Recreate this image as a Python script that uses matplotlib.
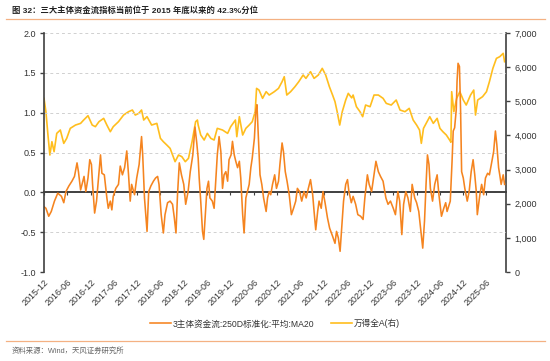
import numpy as np
import pandas as pd
import matplotlib
matplotlib.use("Agg")
import matplotlib.pyplot as plt
import matplotlib.dates as mdates

plt.rcParams['font.family'] = ['Liberation Sans', 'Noto Sans CJK SC', 'DejaVu Sans']

# 万得全A (right axis)
wind_dates = [
    "2015-12-01", "2015-12-16", "2016-01-01", "2016-01-16", "2016-02-01", "2016-02-18",
    "2016-03-10", "2016-04-07", "2016-05-04", "2016-05-27", "2016-06-24", "2016-08-04",
    "2016-09-13", "2016-10-07", "2016-11-10", "2016-12-13", "2017-01-07", "2017-02-04",
    "2017-03-13", "2017-04-07", "2017-05-04", "2017-05-27", "2017-07-07", "2017-08-16",
    "2017-09-24", "2017-10-24", "2017-11-16", "2017-12-13", "2018-01-04", "2018-01-21",
    "2018-02-16", "2018-03-24", "2018-05-04", "2018-06-01", "2018-06-24", "2018-07-21",
    "2018-08-16", "2018-09-24", "2018-10-21", "2018-11-16", "2018-12-13", "2019-01-07",
    "2019-02-04", "2019-03-04", "2019-03-18", "2019-03-24", "2019-04-13", "2019-05-10",
    "2019-06-04", "2019-07-01", "2019-07-27", "2019-08-21", "2019-10-01", "2019-11-10",
    "2019-12-04", "2020-01-10", "2020-01-21", "2020-02-10", "2020-03-07", "2020-04-01",
    "2020-04-27", "2020-05-21", "2020-06-13", "2020-06-24", "2020-07-13", "2020-08-10",
    "2020-09-07", "2020-10-01", "2020-11-10", "2020-12-13", "2021-01-10", "2021-01-27",
    "2021-02-16", "2021-03-18", "2021-04-21", "2021-05-21", "2021-06-24", "2021-07-16",
    "2021-08-21", "2021-09-18", "2021-10-21", "2021-11-21", "2021-12-18", "2022-01-16",
    "2022-02-10", "2022-03-01", "2022-03-18", "2022-04-07", "2022-04-27", "2022-05-24",
    "2022-06-13", "2022-07-10", "2022-07-21", "2022-08-16", "2022-09-13", "2022-10-04",
    "2022-10-27", "2022-12-01", "2023-01-01", "2023-02-04", "2023-03-13", "2023-04-07",
    "2023-05-16", "2023-06-24", "2023-07-24", "2023-09-01", "2023-10-04", "2023-11-04",
    "2023-12-01", "2023-12-24", "2024-01-07", "2024-01-24", "2024-02-21", "2024-03-13",
    "2024-04-10", "2024-05-10", "2024-06-01", "2024-06-24", "2024-07-21", "2024-08-16",
    "2024-08-26", "2024-09-01", "2024-09-18", "2024-10-10", "2024-11-04", "2024-12-01",
    "2024-12-24", "2025-01-27", "2025-02-21", "2025-03-07", "2025-03-24", "2025-05-01",
    "2025-06-01", "2025-06-24", "2025-07-21", "2025-08-18", "2025-09-13", "2025-10-10",
    "2025-10-21",
]
wind_vals = [
    5087, 4696, 4013, 3427, 3817, 3524,
    4061, 4159, 3768, 3915, 4208, 4305,
    4354, 4452, 4579, 4305, 4257, 4403,
    4501, 4305, 4110, 4257, 4403, 4598,
    4696, 4745, 4598, 4647, 4745, 4452,
    4550, 4305, 4354, 3915, 3817, 3720,
    3622, 3232, 3427, 3378, 3232, 3329,
    3817, 4403, 4452, 4305, 4013, 3866,
    4061, 3915, 3866, 4208, 4159, 4061,
    4257, 4452, 3964, 4550, 4013, 4208,
    4305, 4403, 4696, 5379, 5330, 5087,
    5282, 5184, 5282, 5379, 5575, 5721,
    5184, 5282, 5428, 5575, 5770, 5672,
    5868, 5672, 5770, 5965, 5770, 5428,
    5184, 4989, 4696, 4305, 4696, 5038,
    5233, 5100, 5184, 4842, 4696, 4550,
    4891, 4842, 5184, 5184, 5087, 4940,
    4891, 5038, 4745, 4696, 4794, 4452,
    4305, 4159, 3769, 4208, 4403, 4550,
    4354, 4501, 4208, 4110, 4013, 3866,
    3800, 5282, 4696, 5087, 5282, 5038,
    4891, 5184, 5330, 4598, 5038, 5135,
    5282, 5575, 5965, 6258, 6307, 6405,
    6160,
]

# 3主体资金流:250D标准化:平均:MA20 (left axis)
flow_dates = [
    "2015-12-01", "2015-12-16", "2016-01-07", "2016-01-27", "2016-02-21", "2016-03-18",
    "2016-04-16", "2016-05-04", "2016-05-21", "2016-06-13", "2016-07-07", "2016-07-27",
    "2016-08-16", "2016-08-27", "2016-09-13", "2016-09-24", "2016-10-10", "2016-10-24",
    "2016-11-10", "2016-11-24", "2016-12-07", "2016-12-16", "2017-01-01", "2017-01-16",
    "2017-01-27", "2017-02-16", "2017-02-27", "2017-03-18", "2017-04-07", "2017-04-18",
    "2017-05-04", "2017-05-16", "2017-05-27", "2017-06-16", "2017-07-07", "2017-07-21",
    "2017-08-07", "2017-08-24", "2017-09-10", "2017-09-24", "2017-10-07", "2017-10-18",
    "2017-11-10", "2017-11-27", "2017-12-16", "2018-01-04", "2018-01-13", "2018-01-27",
    "2018-02-16", "2018-03-01", "2018-03-18", "2018-04-07", "2018-04-24", "2018-05-10",
    "2018-05-21", "2018-06-07", "2018-06-24", "2018-07-07", "2018-07-27", "2018-08-16",
    "2018-09-04", "2018-09-18", "2018-10-01", "2018-10-13", "2018-10-27", "2018-11-13",
    "2018-12-01", "2018-12-16", "2019-01-04", "2019-01-21", "2019-02-10", "2019-02-27",
    "2019-03-13", "2019-03-24", "2019-04-01", "2019-04-13", "2019-04-27", "2019-05-07",
    "2019-05-16", "2019-06-01", "2019-06-13", "2019-06-24", "2019-07-13", "2019-07-27",
    "2019-08-10", "2019-08-21", "2019-09-04", "2019-09-18", "2019-10-01", "2019-10-13",
    "2019-10-27", "2019-11-10", "2019-11-21", "2019-12-07", "2019-12-18", "2020-01-01",
    "2020-01-13", "2020-01-27", "2020-02-10", "2020-02-21", "2020-03-07", "2020-03-18",
    "2020-04-01", "2020-04-13", "2020-04-27", "2020-05-10", "2020-05-21", "2020-06-07",
    "2020-06-18", "2020-06-27", "2020-07-10", "2020-07-21", "2020-08-04", "2020-08-18",
    "2020-09-07", "2020-09-18", "2020-10-01", "2020-10-13", "2020-10-27", "2020-11-13",
    "2020-11-27", "2020-12-13", "2020-12-24", "2021-01-10", "2021-01-21", "2021-02-04",
    "2021-02-18", "2021-03-07", "2021-03-24", "2021-04-10", "2021-04-27", "2021-05-10",
    "2021-05-27", "2021-06-13", "2021-07-01", "2021-07-18", "2021-08-04", "2021-08-21",
    "2021-09-07", "2021-09-18", "2021-10-01", "2021-10-16", "2021-10-27", "2021-11-13",
    "2021-11-27", "2021-12-13", "2022-01-01", "2022-01-18", "2022-02-10", "2022-03-01",
    "2022-03-13", "2022-03-27", "2022-04-10", "2022-04-21", "2022-05-07", "2022-05-24",
    "2022-06-07", "2022-06-18", "2022-07-07", "2022-07-21", "2022-08-10", "2022-08-27",
    "2022-09-18", "2022-10-07", "2022-10-21", "2022-11-10", "2022-11-24", "2022-12-13",
    "2023-01-01", "2023-01-16", "2023-02-04", "2023-02-21", "2023-03-13", "2023-04-04",
    "2023-04-21", "2023-05-10", "2023-06-01", "2023-06-18", "2023-07-07", "2023-07-21",
    "2023-08-07", "2023-08-21", "2023-09-07", "2023-09-24", "2023-10-13", "2023-10-27",
    "2023-11-16", "2023-12-01", "2023-12-18", "2024-01-04", "2024-01-18", "2024-02-01",
    "2024-02-13", "2024-02-24", "2024-03-07", "2024-03-18", "2024-04-04", "2024-04-21",
    "2024-05-10", "2024-05-24", "2024-06-13", "2024-07-01", "2024-07-16", "2024-07-27",
    "2024-08-13", "2024-08-21", "2024-09-04", "2024-09-13", "2024-09-24", "2024-10-07",
    "2024-10-13", "2024-10-21", "2024-11-01", "2024-11-10", "2024-11-18", "2024-12-01",
    "2024-12-13", "2025-01-01", "2025-01-16", "2025-02-01", "2025-02-16", "2025-03-01",
    "2025-03-13", "2025-03-21", "2025-04-10", "2025-04-24", "2025-05-10", "2025-05-24",
    "2025-06-10", "2025-06-24", "2025-07-13", "2025-07-27", "2025-08-10", "2025-08-21",
    "2025-09-04", "2025-09-13", "2025-09-24", "2025-10-10", "2025-10-21",
]
flow_vals = [
    -0.18, -0.20, -0.30, -0.24, -0.11, -0.01,
    -0.05, -0.13, 0.01, 0.08, 0.14, 0.20,
    0.37, 0.26, 0.03, 0.10, 0.20, 0.01,
    0.18, 0.41, 0.35, 0.10, -0.26, -0.11,
    0.10, 0.47, 0.24, 0.22, -0.07, -0.20,
    -0.11, -0.22, -0.05, 0.05, 0.10, 0.33,
    0.22, 0.31, 0.52, 0.22, -0.11, 0.10,
    -0.03, 0.18, 0.35, 0.70, 0.47, -0.07,
    -0.49, 0.01, 0.08, 0.14, 0.18, 0.20,
    0.10, -0.28, -0.51, -0.28, -0.13, -0.11,
    -0.15, -0.32, -0.51, -0.03, 0.37, 0.22,
    0.10, -0.15, 0.01, 0.26, 0.47, 0.82,
    0.62, 0.43, 0.18, -0.11, -0.49, -0.59,
    -0.36, 0.05, 0.14, -0.07, -0.11, -0.20,
    0.18, 0.47, 0.70, 0.51, 0.05, 0.22,
    0.26, 0.14, 0.41, 0.47, 0.64, 0.47,
    0.39, 0.31, 0.39, 0.18, -0.28, -0.51,
    -0.07, 0.01, 0.10, 0.31, 0.43, 0.68,
    1.02, 1.10, 0.64, 0.22, 0.10, -0.07,
    -0.24, -0.07, 0.01, -0.03, 0.10, 0.22,
    0.05, 0.14, 0.35, 0.62, 0.51, 0.26,
    0.14, -0.03, -0.28, -0.20, -0.11, 0.05,
    0.01, -0.11, 0.01, -0.07, 0.05, 0.16,
    -0.03, -0.24, -0.47, -0.24, -0.11, -0.20,
    0.01, -0.13, -0.32, -0.45, -0.55, -0.64,
    -0.49, -0.57, -0.74, -0.49, -0.11, 0.10,
    0.16, 0.01, -0.13, -0.05, -0.15, -0.28,
    -0.30, -0.34, -0.07, 0.22, 0.10, 0.01,
    0.22, 0.39, 0.26, 0.20, 0.14, -0.07,
    -0.15, -0.11, -0.20, -0.28, 0.01, -0.11,
    -0.53, -0.15, 0.01, -0.07, -0.24, 0.10,
    -0.07, -0.13, -0.24, -0.49, -0.70, -0.36,
    0.10, 0.47, 0.35, 0.05, -0.11, 0.10,
    0.22, -0.03, -0.30, -0.20, -0.13, -0.24,
    -0.15, -0.11, 0.39, 0.77, 0.81, 1.04,
    1.39, 1.62, 1.58, 1.02, 0.26, 0.18,
    0.05, -0.11, 0.01, 0.26, 0.41, 0.22,
    0.01, -0.28, -0.03, 0.10, -0.03, 0.18,
    0.24, 0.22, 0.39, 0.51, 0.77, 0.60,
    0.31, 0.22, 0.10, 0.22, 0.10,
]

left_ticks = [-1.0, -0.5, 0.0, 0.5, 1.0, 1.5, 2.0]
right_ticks = [0, 1000, 2000, 3000, 4000, 5000, 6000, 7000]

title = "图 32：三大主体资金流指标当前位于 2015 年底以来的 42.3%分位"
source = "资料来源：Wind，天风证券研究所"
flow_label = "3主体资金流:250D标准化:平均:MA20"
wind_label = "万得全A(右)"

orange = "#F5841F"
gold = "#FFBE1E"
axis_col = "#404040"
text_col = "#333333"

wd = pd.to_datetime(wind_dates)
fd = pd.to_datetime(flow_dates)

fig = plt.figure(figsize=(5.5, 3.61), dpi=100)
ax = fig.add_axes([0.08, 0.2465, 0.84, 0.662])
ax2 = ax.twinx()

l1, = ax.plot(fd, flow_vals, color=orange, lw=1.15, label=flow_label)
l2, = ax2.plot(wd, wind_vals, color=gold, lw=1.2, label=wind_label)
ax.set_zorder(ax2.get_zorder() + 1)
ax.patch.set_visible(False)

ax.set_ylim(-1.0, 2.0)
ax2.set_ylim(0, 7000)
ax.set_yticks(left_ticks)
ax.set_yticklabels([f"{v:.1f}" for v in left_ticks])
ax2.set_yticks(right_ticks)
ax2.set_yticklabels([f"{v:,}" for v in right_ticks])

x0 = pd.Timestamp("2015-12-01")
x1 = pd.Timestamp("2025-11-01")
ax.set_xlim(x0, x1)
xt = pd.date_range("2015-12-01", "2025-06-01", freq="6MS")
ax.set_xticks(xt)
ax.set_xticklabels([d.strftime("%Y-%m") for d in xt], rotation=45, ha="right",
                   rotation_mode="anchor")

for y in left_ticks:
    ax.axhline(y, color="#d0d0d0", lw=0.7, ls=(0, (3, 3)), zorder=0)

# zero line with small ticks
sec = ax.secondary_xaxis(1 / 3)
sec.set_xticks(xt)
sec.set_xticklabels([])
sec.tick_params(axis="x", direction="out", length=2.5, width=0.8, color=axis_col)
sec.spines["bottom"].set_color(axis_col)
sec.spines["bottom"].set_linewidth(1.4)
sec.spines["top"].set_visible(False)
sec.xaxis.set_ticks_position("bottom")

for a in (ax, ax2):
    a.spines["top"].set_visible(False)
    a.spines["bottom"].set_visible(False)
ax.spines["right"].set_visible(False)
ax2.spines["left"].set_visible(False)
ax.spines["left"].set_color(axis_col)
ax.spines["left"].set_linewidth(1.2)
ax2.spines["right"].set_color(axis_col)
ax2.spines["right"].set_linewidth(1.2)

ax.tick_params(axis="x", length=0, pad=4, labelsize=6.5, labelcolor=text_col)
ax.tick_params(axis="y", length=3, width=1, color=axis_col, labelsize=6.5,
               labelcolor=text_col, pad=3)
ax2.tick_params(axis="y", length=3, width=1, color=axis_col, labelsize=6.5,
                labelcolor=text_col, pad=3)

fig.legend(handles=[l1, l2], loc="center", bbox_to_anchor=(0.5, 0.103), ncol=2,
           frameon=False, fontsize=6.2, handlelength=2.4, columnspacing=2.0,
           handletextpad=0.2, labelcolor=text_col)

fig.text(0.022, 0.972, title, fontsize=6.0, fontweight="bold", color="#222222",
         va="center", ha="left")
fig.add_artist(plt.Line2D([0.01, 0.99], [0.947, 0.947], color="#F4B183", lw=0.9))
fig.add_artist(plt.Line2D([0.01, 0.99], [0.055, 0.055], color="#F4B183", lw=0.9))
fig.text(0.022, 0.028, source, fontsize=5.3, color="#666666", va="center", ha="left")

fig.savefig("out.png", dpi=100)
